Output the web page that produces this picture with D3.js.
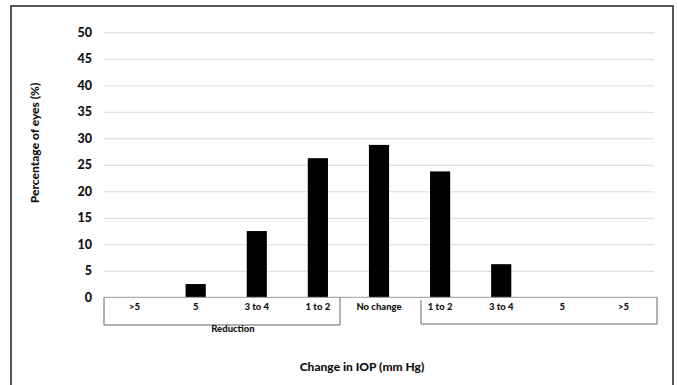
<!DOCTYPE html>
<html><head><meta charset="utf-8">
<script src="https://cdn.jsdelivr.net/npm/d3@7"></script>
<style>body{margin:0;background:#fff}svg{display:block}text{font-family:Lato,"Open Sans",sans-serif;font-weight:bold;fill:#111}</style>
</head><body>
<script>
const categories = ["r>5","r5","r3to4","r1to2","none","i1to2","i3to4","i5","i>5"];
const tickLabels = [">5","5","3 to 4","1 to 2","No change","1 to 2","3 to 4","5",">5"];
const values = [0, 2.5, 12.5, 26.25, 28.75, 23.75, 6.25, 0, 0];
const yTicks = [0,5,10,15,20,25,30,35,40,45,50];
const groupLabel = "Reduction";
const xTitle = "Change in IOP (mm Hg)";
const yTitle = "Percentage of eyes (%)";

const W = 677, H = 385;
const svg = d3.select("body").append("svg").attr("width", W).attr("height", H);
// outer frame
svg.append("rect").attr("x", 11).attr("y", 6).attr("width", 662).attr("height", 385)
  .attr("fill", "none").attr("stroke", "#222").attr("stroke-width", 1.5);

const x0 = 104, x1 = 654, yTop = 32.3, yBot = 297.3;
const x = d3.scaleBand().domain(categories).range([x0, x1]).paddingInner(0.67).paddingOuter(0.335);
const y = d3.scaleLinear().domain([0, 50]).range([yBot, yTop]);

// gridlines
const yAxis = d3.axisLeft(y).tickValues(yTicks).tickSize(-(x1 - x0)).tickPadding(12);
const gy = svg.append("g").attr("transform", `translate(${x0},0)`).call(yAxis);
gy.select(".domain").remove();
gy.selectAll(".tick line").attr("stroke", "#d9d9d9").attr("stroke-width", 1).filter(d => d === 0).remove();
gy.selectAll(".tick text").attr("font-size", 12.5).style("font-family", "Lato,sans-serif").style("font-weight", "900").attr("fill", "#111");

// bars
svg.selectAll("rect.bar").data(values).join("rect").attr("class", "bar")
  .attr("x", (d, i) => x(categories[i])).attr("width", x.bandwidth())
  .attr("y", d => y(d)).attr("height", d => yBot - y(d)).attr("fill", "#000");

// baseline axis
svg.append("line").attr("x1", x0).attr("x2", 657).attr("y1", yBot).attr("y2", yBot)
  .attr("stroke", "#999").attr("stroke-width", 1);

// boxes (reduction / increase)
svg.append("path").attr("d", `M${x0},${yBot}V325H340V${yBot}`).attr("fill", "none").attr("stroke", "#666").attr("stroke-width", 1);
svg.append("path").attr("d", `M421,${yBot+3}V324H657V${yBot}`).attr("fill", "none").attr("stroke", "#666").attr("stroke-width", 1);

// tick labels
const xAxis = d3.axisBottom(x).tickFormat((d, i) => tickLabels[i]).tickSize(0).tickPadding(6);
const gx = svg.append("g").attr("transform", `translate(0,${yBot})`).call(xAxis);
gx.select(".domain").remove();
gx.selectAll(".tick text").attr("font-size", 9.5).style("font-family", "Lato,sans-serif").style("font-weight", "900").attr("fill", "#111");

svg.append("text").attr("x", 233).attr("y", 332).attr("text-anchor", "middle").attr("font-size", 9.5).style("font-weight", "900").text(groupLabel);
svg.append("text").attr("x", 362).attr("y", 371).attr("text-anchor", "middle").attr("font-size", 12).style("font-weight", "900").text(xTitle);
svg.append("text").attr("transform", "translate(39,143) rotate(-90)").attr("text-anchor", "middle").attr("font-size", 12).style("font-weight", "900").text(yTitle);
</script>
</body></html>
